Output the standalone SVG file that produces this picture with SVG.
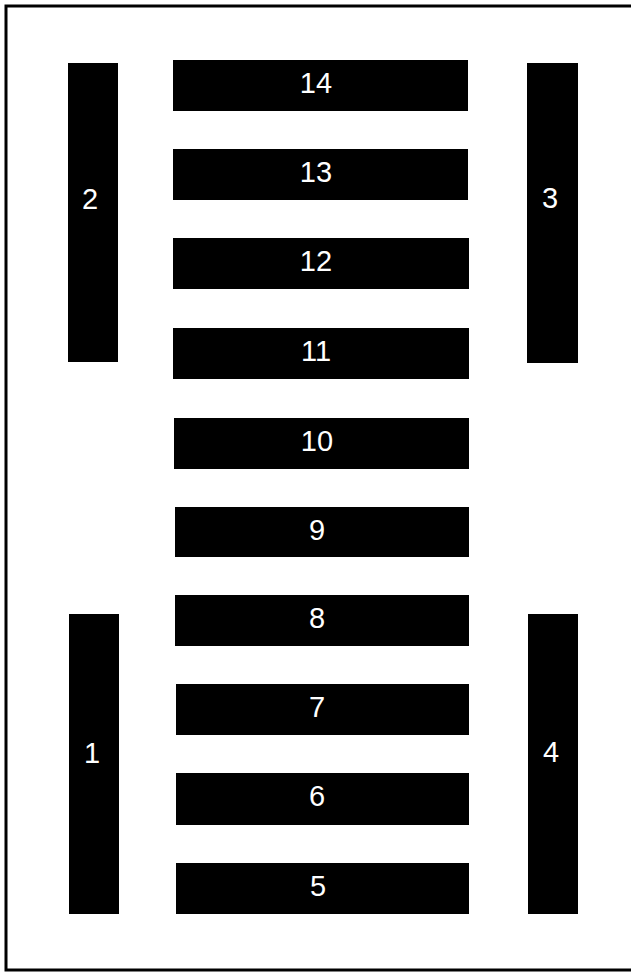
<svg xmlns="http://www.w3.org/2000/svg" width="631" height="972" viewBox="0 0 631 972">
<style>
.b{fill:#000}
.t{fill:#fff;font-family:"Liberation Sans",Arial,sans-serif;font-size:29px;text-anchor:middle}
</style>
<rect width="631" height="972" fill="#fff"/>
<rect x="6" y="6" width="640" height="964" fill="none" stroke="#000" stroke-width="3"/>
<g id="node-2"><rect class="b" x="68" y="63" width="50" height="299"/><text class="t" x="90" y="209">2</text></g>
<g id="node-3"><rect class="b" x="527" y="63" width="51" height="300"/><text class="t" x="550" y="208">3</text></g>
<g id="node-1"><rect class="b" x="69" y="614" width="50" height="300"/><text class="t" x="92" y="763">1</text></g>
<g id="node-4"><rect class="b" x="528" y="614" width="50" height="300"/><text class="t" x="551" y="762">4</text></g>
<g id="node-14"><rect class="b" x="173" y="60" width="295" height="51"/><text class="t" x="316" y="93">14</text></g>
<g id="node-13"><rect class="b" x="173" y="149" width="295" height="51"/><text class="t" x="316" y="182">13</text></g>
<g id="node-12"><rect class="b" x="173" y="238" width="296" height="51"/><text class="t" x="316" y="271">12</text></g>
<g id="node-11"><rect class="b" x="173" y="328" width="296" height="51"/><text class="t" x="316" y="361">11</text></g>
<g id="node-10"><rect class="b" x="174" y="418" width="295" height="51"/><text class="t" x="317" y="451">10</text></g>
<g id="node-9"><rect class="b" x="175" y="507" width="294" height="50"/><text class="t" x="317" y="540">9</text></g>
<g id="node-8"><rect class="b" x="175" y="595" width="294" height="51"/><text class="t" x="317" y="628">8</text></g>
<g id="node-7"><rect class="b" x="176" y="684" width="293" height="51"/><text class="t" x="317" y="717">7</text></g>
<g id="node-6"><rect class="b" x="176" y="773" width="293" height="52"/><text class="t" x="317" y="806">6</text></g>
<g id="node-5"><rect class="b" x="176" y="863" width="293" height="51"/><text class="t" x="318" y="896">5</text></g>
<g id="connectors"></g>
</svg>
